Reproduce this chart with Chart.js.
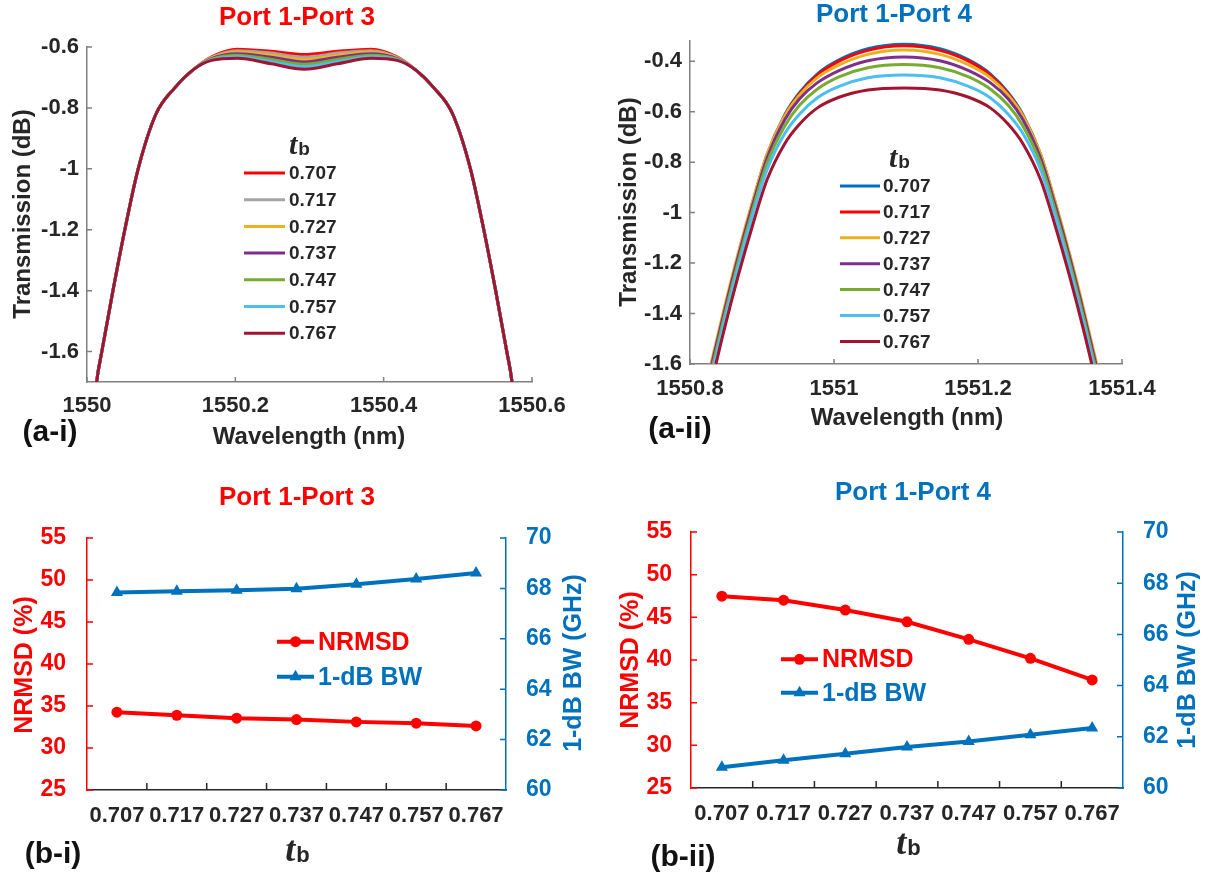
<!DOCTYPE html>
<html>
<head>
<meta charset="utf-8">
<title>Port transmission and NRMSD vs tb</title>
<script src="https://cdn.jsdelivr.net/npm/chart.js@4.4.1/dist/chart.umd.min.js"></script>
<style>
html,body{margin:0;padding:0;background:#ffffff;}
#page{position:relative;width:1215px;height:881px;overflow:hidden;background:#ffffff;}
canvas{position:absolute;}
</style>
</head>
<body>
<div id="page">
  <canvas id="chartA1" width="600" height="450" style="left:0;top:0"></canvas>
  <canvas id="chartA2" width="615" height="450" style="left:600px;top:0"></canvas>
  <canvas id="chartB1" width="600" height="431" style="left:0;top:450px"></canvas>
  <canvas id="chartB2" width="615" height="431" style="left:600px;top:450px"></canvas>
</div>
<script>

/* ===========================
   DATA
=========================== */

const TB_LABELS = ["0.707","0.717","0.727","0.737","0.747","0.757","0.767"];

// (a-i) Port 1 - Port 3, wavelength (nm) and transmission (dB)
const WL_13 = [1550.008,1550.013,1550.020,1550.035,1550.051,1550.069,1550.093,1550.118,1550.143,1550.168,1550.203,1550.248,1550.293,1550.338,1550.383,1550.418,1550.443,1550.468,1550.493,1550.517,1550.535,1550.551,1550.566,1550.573,1550.578];
const T13_707 = [-1.84,-1.70,-1.60,-1.40,-1.20,-1.00,-0.82,-0.735,-0.675,-0.632,-0.607,-0.614,-0.625,-0.614,-0.607,-0.632,-0.675,-0.735,-0.82,-1.00,-1.20,-1.40,-1.60,-1.70,-1.84];
const T13_717 = [-1.84,-1.70,-1.60,-1.40,-1.20,-1.00,-0.82,-0.735,-0.675,-0.634,-0.612,-0.620,-0.633,-0.620,-0.612,-0.634,-0.675,-0.735,-0.82,-1.00,-1.20,-1.40,-1.60,-1.70,-1.84];
const T13_727 = [-1.84,-1.70,-1.60,-1.40,-1.20,-1.00,-0.82,-0.735,-0.675,-0.636,-0.617,-0.627,-0.641,-0.627,-0.617,-0.636,-0.675,-0.735,-0.82,-1.00,-1.20,-1.40,-1.60,-1.70,-1.84];
const T13_737 = [-1.84,-1.70,-1.60,-1.40,-1.20,-1.00,-0.82,-0.735,-0.675,-0.638,-0.622,-0.634,-0.649,-0.634,-0.622,-0.638,-0.675,-0.735,-0.82,-1.00,-1.20,-1.40,-1.60,-1.70,-1.84];
const T13_747 = [-1.84,-1.70,-1.60,-1.40,-1.20,-1.00,-0.82,-0.735,-0.675,-0.640,-0.627,-0.641,-0.657,-0.641,-0.627,-0.640,-0.675,-0.735,-0.82,-1.00,-1.20,-1.40,-1.60,-1.70,-1.84];
const T13_757 = [-1.84,-1.70,-1.60,-1.40,-1.20,-1.00,-0.82,-0.735,-0.675,-0.642,-0.632,-0.648,-0.665,-0.648,-0.632,-0.642,-0.675,-0.735,-0.82,-1.00,-1.20,-1.40,-1.60,-1.70,-1.84];
const T13_767 = [-1.84,-1.70,-1.60,-1.40,-1.20,-1.00,-0.82,-0.735,-0.675,-0.644,-0.637,-0.655,-0.673,-0.655,-0.637,-0.644,-0.675,-0.735,-0.82,-1.00,-1.20,-1.40,-1.60,-1.70,-1.84];

const X_TICKS_13 = [1550,1550.2,1550.4,1550.6];
const Y_TICKS_13 = [-1.6,-1.4,-1.2,-1,-0.8,-0.6];

// (a-ii) Port 1 - Port 4
const WL_14 = [1550.817,1550.832,1550.847,1550.867,1550.887,1550.907,1550.932,1550.952,1550.977,1551.007,1551.047,1551.097,1551.147,1551.187,1551.217,1551.242,1551.262,1551.287,1551.307,1551.327,1551.347,1551.362,1551.377];
const T14_707 = [-1.77,-1.58,-1.40,-1.17,-0.96,-0.77,-0.61,-0.525,-0.45,-0.395,-0.351,-0.333,-0.351,-0.395,-0.45,-0.525,-0.61,-0.77,-0.96,-1.17,-1.40,-1.58,-1.77];
const T14_717 = [-1.775,-1.585,-1.405,-1.175,-0.965,-0.775,-0.615,-0.53,-0.455,-0.40,-0.357,-0.339,-0.357,-0.40,-0.455,-0.53,-0.615,-0.775,-0.965,-1.175,-1.405,-1.585,-1.775];
const T14_727 = [-1.75,-1.565,-1.385,-1.16,-0.955,-0.77,-0.615,-0.535,-0.465,-0.415,-0.373,-0.356,-0.373,-0.415,-0.465,-0.535,-0.615,-0.77,-0.955,-1.16,-1.385,-1.565,-1.75];
const T14_737 = [-1.77,-1.58,-1.40,-1.175,-0.97,-0.785,-0.63,-0.55,-0.485,-0.437,-0.398,-0.383,-0.398,-0.437,-0.485,-0.55,-0.63,-0.785,-0.97,-1.175,-1.40,-1.58,-1.77];
const T14_747 = [-1.79,-1.60,-1.42,-1.195,-0.99,-0.805,-0.655,-0.575,-0.51,-0.462,-0.426,-0.413,-0.426,-0.462,-0.51,-0.575,-0.655,-0.805,-0.99,-1.195,-1.42,-1.60,-1.79];
const T14_757 = [-1.81,-1.62,-1.44,-1.215,-1.01,-0.83,-0.685,-0.61,-0.545,-0.50,-0.466,-0.455,-0.466,-0.50,-0.545,-0.61,-0.685,-0.83,-1.01,-1.215,-1.44,-1.62,-1.81];
const T14_767 = [-1.84,-1.65,-1.47,-1.25,-1.05,-0.87,-0.725,-0.65,-0.585,-0.543,-0.514,-0.506,-0.514,-0.543,-0.585,-0.65,-0.725,-0.87,-1.05,-1.25,-1.47,-1.65,-1.84];

const X_TICKS_14 = [1550.8,1551,1551.2,1551.4];
const Y_TICKS_14 = [-1.6,-1.4,-1.2,-1,-0.8,-0.6,-0.4];

// (b-i) / (b-ii) NRMSD (%) and 1-dB bandwidth (GHz) vs tb
const NRMSD_13 = [34.26,33.90,33.55,33.39,33.11,32.95,32.63];
const BW_13    = [67.84,67.89,67.93,67.99,68.16,68.37,68.61];
const NRMSD_14 = [47.48,47.01,45.85,44.48,42.42,40.20,37.66];
const BW_14    = [60.81,61.08,61.34,61.60,61.82,62.08,62.34];

/* ===========================
   STYLE
=========================== */

const RED = "#FF0000";
const BLUE = "#0072BD";
const INK = "#262626";
const AXIS_GREY = "#808080";
const SANS = '"Liberation Sans", Arial, sans-serif';

const COLORS_13 = ["#FF0000","#A5A5A5","#EDB120","#7E2F8E","#77AC30","#4DBEEE","#A2142F"];
const COLORS_14 = ["#0072BD","#FF0000","#EDB120","#7E2F8E","#77AC30","#4DBEEE","#A2142F"];

function fmt(v){

    return String(Math.round(v*1000)/1000);

}

/* ===========================
   DRAW HELPERS
=========================== */

function drawText(c,t){

    c.save();

    c.font = t.font;

    c.fillStyle = t.color || INK;

    c.textAlign = t.align || "center";

    c.textBaseline = "middle";

    c.translate(t.x,t.y);

    if(t.rot) c.rotate(t.rot);

    c.fillText(t.text,0,0);

    c.restore();

}

function drawTb(c,t){

    c.save();

    c.fillStyle = t.color || INK;

    c.textBaseline = "alphabetic";

    c.textAlign = "left";

    const tFont = "italic bold " + t.tSize + 'px "Liberation Serif", serif';

    const bFont = "bold " + t.bSize + "px " + SANS;

    c.font = tFont;

    const tw = c.measureText("t").width;

    c.font = bFont;

    const bw = c.measureText("b").width;

    const x = t.x - (tw+bw)/2;

    const base = t.y + t.tSize*0.3;

    c.font = tFont;

    c.fillText("t",x,base);

    c.font = bFont;

    c.fillText("b",x+tw+1,base+1);

    c.restore();

}

function drawInwardTicks(chart,t){

    const s = chart.scales[t.axis];

    const a = chart.chartArea;

    const c = chart.ctx;

    let px = s.ticks.map((tk,i)=>s.getPixelForTick(i));

    if(t.between){

        px = px.slice(1).map((p,i)=>(p+px[i])/2);

    }

    c.save();

    c.strokeStyle = t.color;

    c.lineWidth = 1.5;

    c.beginPath();

    px.forEach(p=>{

        if(s.isHorizontal()){

            c.moveTo(p,a.bottom);

            c.lineTo(p,a.bottom-t.len);

        }
        else if(s.position==="left"){

            c.moveTo(a.left,p);

            c.lineTo(a.left+t.len,p);

        }
        else{

            c.moveTo(a.right,p);

            c.lineTo(a.right-t.len,p);

        }

    });

    c.stroke();

    c.restore();

}

function drawMarker(c,style,x,y,r){

    c.beginPath();

    if(style==="triangle"){

        c.moveTo(x,y-r);

        c.lineTo(x+r*0.866,y+r*0.5);

        c.lineTo(x-r*0.866,y+r*0.5);

        c.closePath();

    }
    else{

        c.arc(x,y,r,0,Math.PI*2);

    }

    c.fill();

}

function decorPlugin(deco){

    return {

        id:"decor",

        afterDraw(chart){

            const c = chart.ctx;

            (deco.ticks || []).forEach(t=>drawInwardTicks(chart,t));

            (deco.texts || []).forEach(t=>drawText(c,t));

            (deco.tb || []).forEach(t=>drawTb(c,t));

            if(deco.legend) deco.legend(chart,c);

        }

    };

}

/* ===========================
   SPECTRUM CHARTS (a)
=========================== */

function spectrumLegend(lg){

    return (chart,c)=>{

        drawTb(c,{x:lg.headX,y:lg.headY,tSize:30,bSize:19});

        c.save();

        c.font = "bold 19px " + SANS;

        c.textAlign = "left";

        c.textBaseline = "middle";

        chart.data.datasets.forEach((ds,i)=>{

            const y = lg.y0 + i*lg.dy;

            c.strokeStyle = ds.borderColor;

            c.lineWidth = 3;

            c.beginPath();

            c.moveTo(lg.x1,y);

            c.lineTo(lg.x2,y);

            c.stroke();

            c.fillStyle = INK;

            c.fillText(ds.label,lg.textX,y+1);

        });

        c.restore();

    };

}

function buildSpectrum(id,wl,series,colors,ax,box,deco){

    const datasets = series.map((vals,i)=>({

        label:TB_LABELS[i],

        data:wl.map((w,k)=>({x:w,y:vals[k]})),

        borderColor:colors[i],

        backgroundColor:colors[i],

        borderWidth:3,

        pointRadius:0,

        cubicInterpolationMode:"monotone",

        fill:false,

        order:series.length-1-i

    }));

    const tickFont = {family:SANS,size:22,weight:"bold"};

    return new Chart(

        document.getElementById(id),

        {

            type:"line",

            data:{datasets},

            options:{

                responsive:false,

                animation:false,

                events:[],

                layout:{padding:{left:0,top:box.top,right:box.right,bottom:0}},

                plugins:{legend:{display:false},tooltip:{enabled:false}},

                scales:{

                    x:{

                        type:"linear",

                        min:ax.xMin,

                        max:ax.xMax,

                        afterBuildTicks:s=>{ s.ticks = ax.xTicks.map(v=>({value:v})); },

                        afterFit:s=>{ s.height = box.xHeight; },

                        grid:{display:false,drawTicks:false},

                        border:{display:true,color:AXIS_GREY,width:1.5},

                        ticks:{padding:box.xPad,font:tickFont,color:INK,maxRotation:0,autoSkip:false,callback:v=>fmt(v)}

                    },

                    y:{

                        type:"linear",

                        min:ax.yMin,

                        max:ax.yMax,

                        afterBuildTicks:s=>{ s.ticks = ax.yTicks.map(v=>({value:v})); },

                        afterFit:s=>{ s.width = box.yWidth; },

                        grid:{display:false,drawTicks:false},

                        border:{display:true,color:AXIS_GREY,width:1.5},

                        ticks:{padding:box.yPad,font:tickFont,color:INK,callback:v=>fmt(v)}

                    }

                }

            },

            plugins:[decorPlugin(deco)]

        }

    );

}

/* ===========================
   NRMSD / BW CHARTS (b)
=========================== */

function metricLegend(lg){

    return (chart,c)=>{

        c.save();

        c.font = "bold 25px " + SANS;

        c.textAlign = "left";

        c.textBaseline = "middle";

        chart.data.datasets.forEach((ds,i)=>{

            const y = lg.y[i];

            c.strokeStyle = ds.borderColor;

            c.fillStyle = ds.borderColor;

            c.lineWidth = 4;

            c.beginPath();

            c.moveTo(lg.x1,y);

            c.lineTo(lg.x2,y);

            c.stroke();

            drawMarker(c,ds.pointStyle,(lg.x1+lg.x2)/2,y,ds.pointRadius);

            c.fillText(ds.label,lg.textX,y+1);

        });

        c.restore();

    };

}

function buildMetric(id,nrmsd,bw,box,deco){

    const tickFont = {family:SANS,size:22,weight:"bold"};

    return new Chart(

        document.getElementById(id),

        {

            type:"line",

            data:{

                labels:TB_LABELS,

                datasets:[

                    {

                        label:"NRMSD",

                        data:nrmsd,

                        yAxisID:"y",

                        borderColor:RED,

                        backgroundColor:RED,

                        borderWidth:4,

                        pointStyle:"circle",

                        pointRadius:5.5,

                        pointBorderWidth:0,

                        tension:0

                    },

                    {

                        label:"1-dB BW",

                        data:bw,

                        yAxisID:"y2",

                        borderColor:BLUE,

                        backgroundColor:BLUE,

                        borderWidth:4,

                        pointStyle:"triangle",

                        pointRadius:7,

                        pointBorderWidth:0,

                        tension:0

                    }

                ]

            },

            options:{

                responsive:false,

                animation:false,

                events:[],

                layout:{padding:{left:0,top:box.top,right:0,bottom:0}},

                plugins:{legend:{display:false},tooltip:{enabled:false}},

                scales:{

                    x:{

                        type:"category",

                        offset:true,

                        afterFit:s=>{ s.height = box.xHeight; },

                        grid:{display:false,drawTicks:false},

                        border:{display:true,color:INK,width:1.5},

                        ticks:{padding:box.xPad,font:tickFont,color:INK,maxRotation:0,autoSkip:false}

                    },

                    y:{

                        type:"linear",

                        position:"left",

                        min:25,

                        max:55,

                        afterFit:s=>{ s.width = box.yWidth; },

                        grid:{display:false,drawTicks:false},

                        border:{display:true,color:RED,width:1.5},

                        ticks:{stepSize:5,padding:box.yPad,font:{family:SANS,size:23,weight:"bold"},color:RED}

                    },

                    y2:{

                        type:"linear",

                        position:"right",

                        min:60,

                        max:70,

                        afterFit:s=>{ s.width = box.y2Width; },

                        grid:{display:false,drawTicks:false},

                        border:{display:true,color:BLUE,width:1.5},

                        ticks:{stepSize:2,padding:box.y2Pad,font:{family:SANS,size:23,weight:"bold"},color:BLUE}

                    }

                }

            },

            plugins:[decorPlugin(deco)]

        }

    );

}

/* ===========================
   BUILD
=========================== */

const TITLE_FONT = "bold 26px " + SANS;

const LABEL_FONT = "bold 24px " + SANS;

const PANEL_FONT = "bold 30px " + SANS;

const METRIC_FONT = "bold 25px " + SANS;

buildSpectrum(

    "chartA1",

    WL_13,

    [T13_707,T13_717,T13_727,T13_737,T13_747,T13_757,T13_767],

    COLORS_13,

    {xMin:1550,xMax:1550.6,xTicks:X_TICKS_13,yMin:-1.7,yMax:-0.6,yTicks:Y_TICKS_13},

    {top:47,right:68,xHeight:68,yWidth:87,xPad:11,yPad:8},

    {

        ticks:[{axis:"x",len:5,color:AXIS_GREY},{axis:"y",len:5,color:AXIS_GREY}],

        texts:[

            {text:"Port 1-Port 3",x:297,y:18,font:TITLE_FONT,color:RED},

            {text:"Transmission (dB)",x:23,y:214,font:LABEL_FONT,rot:-Math.PI/2},

            {text:"Wavelength (nm)",x:309,y:437,font:LABEL_FONT},

            {text:"(a-i)",x:50,y:433,font:PANEL_FONT,color:"#111111"}

        ],

        legend:spectrumLegend({headX:299,headY:145,x1:244,x2:285,textX:289,y0:173,dy:26.7})

    }

);

buildSpectrum(

    "chartA2",

    WL_14,

    [T14_707,T14_717,T14_727,T14_737,T14_747,T14_757,T14_767],

    COLORS_14,

    {xMin:1550.8,xMax:1551.4,xTicks:X_TICKS_14,yMin:-1.6,yMax:-0.32,yTicks:Y_TICKS_14},

    {top:41,right:93,xHeight:86,yWidth:90,xPad:12,yPad:8},

    {

        ticks:[{axis:"x",len:5,color:AXIS_GREY},{axis:"y",len:5,color:AXIS_GREY}],

        texts:[

            {text:"Port 1-Port 4",x:294,y:15,font:TITLE_FONT,color:BLUE},

            {text:"Transmission (dB)",x:29,y:202,font:LABEL_FONT,rot:-Math.PI/2},

            {text:"Wavelength (nm)",x:307,y:418,font:LABEL_FONT},

            {text:"(a-ii)",x:80,y:430,font:PANEL_FONT,color:"#111111"}

        ],

        legend:spectrumLegend({headX:299,headY:158,x1:240,x2:280,textX:283,y0:186,dy:25.9})

    }

);

buildMetric(

    "chartB1",

    NRMSD_13,

    BW_13,

    {top:88,xHeight:91,yWidth:87,y2Width:94,xPad:13,yPad:21,y2Pad:20},

    {

        ticks:[

            {axis:"x",len:7,color:INK,between:true},

            {axis:"y",len:6,color:RED},

            {axis:"y2",len:6,color:BLUE}

        ],

        texts:[

            {text:"Port 1-Port 3",x:297,y:48,font:TITLE_FONT,color:RED},

            {text:"NRMSD (%)",x:25,y:215,font:METRIC_FONT,color:RED,rot:-Math.PI/2},

            {text:"1-dB BW (GHz)",x:574,y:213,font:METRIC_FONT,color:BLUE,rot:-Math.PI/2},

            {text:"(b-i)",x:53,y:405,font:PANEL_FONT,color:"#111111"}

        ],

        tb:[{x:297,y:400,tSize:36,bSize:22}],

        legend:metricLegend({x1:277,x2:314,textX:318,y:[191.7,226.7]})

    }

);

buildMetric(

    "chartB2",

    NRMSD_14,

    BW_14,

    {top:82,xHeight:93,yWidth:91,y2Width:92,xPad:13,yPad:19,y2Pad:20},

    {

        ticks:[

            {axis:"x",len:7,color:INK,between:true},

            {axis:"y",len:6,color:RED},

            {axis:"y2",len:6,color:BLUE}

        ],

        texts:[

            {text:"Port 1-Port 4",x:313,y:43,font:TITLE_FONT,color:BLUE},

            {text:"NRMSD (%)",x:31,y:210,font:METRIC_FONT,color:RED,rot:-Math.PI/2},

            {text:"1-dB BW (GHz)",x:588,y:210,font:METRIC_FONT,color:BLUE,rot:-Math.PI/2},

            {text:"(b-ii)",x:83,y:408,font:PANEL_FONT,color:"#111111"}

        ],

        tb:[{x:308,y:393,tSize:36,bSize:22}],

        legend:metricLegend({x1:181,x2:218,textX:222,y:[209.3,242.7]})

    }

);

</script>
</body>
</html>
